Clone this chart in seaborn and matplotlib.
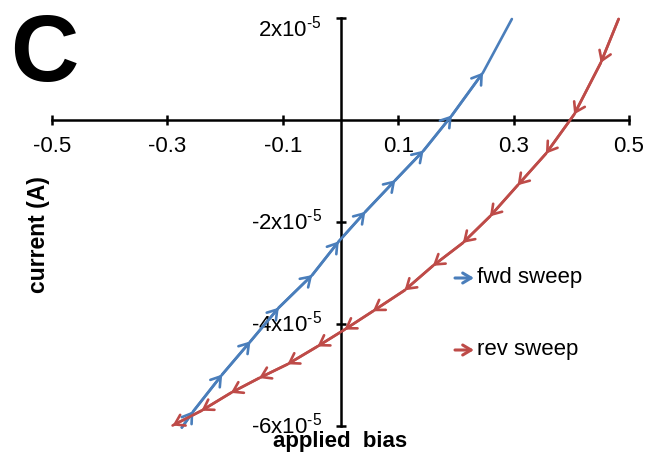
import numpy as np
import pandas as pd
import matplotlib
matplotlib.use("Agg")
import matplotlib.pyplot as plt
import matplotlib.transforms as mtransforms
import seaborn as sns

# ---- data ----
fwd_bias = [-0.275, -0.255, -0.205, -0.156, -0.107, -0.049, -0.003, 0.043, 0.095,
            0.144, 0.193, 0.247, 0.297]
fwd_current = [-6.03e-5, -5.71e-5, -4.99e-5, -4.34e-5, -3.68e-5, -3.04e-5, -2.38e-5,
               -1.80e-5, -1.18e-5, -0.60e-5, 0.09e-5, 0.93e-5, 1.98e-5]
rev_bias = [0.482, 0.451, 0.405, 0.356, 0.307, 0.259, 0.212, 0.160, 0.111, 0.056,
            0.007, -0.040, -0.092, -0.141, -0.190, -0.241, -0.291]
rev_current = [1.98e-5, 1.12e-5, 0.11e-5, -0.66e-5, -1.28e-5, -1.89e-5, -2.41e-5,
               -2.86e-5, -3.34e-5, -3.75e-5, -4.11e-5, -4.44e-5, -4.79e-5, -5.06e-5,
               -5.35e-5, -5.70e-5, -5.99e-5]
series_names = ["fwd sweep", "rev sweep"]
x_ticks = [-0.5, -0.3, -0.1, 0.1, 0.3, 0.5]
x_tick_labels = ["-0.5", "-0.3", "-0.1", "0.1", "0.3", "0.5"]
y_ticks = [-6e-5, -4e-5, -2e-5, 2e-5]
y_tick_labels = ["-6x10$^{\u20105}$", "-4x10$^{\u20105}$", "-2x10$^{\u20105}$", "2x10$^{\u20105}$"]

BLUE = "#4A7EBB"
RED = "#BE4B48"

sns.set_theme(style="white")
plt.rcParams["font.family"] = ["Liberation Sans", "DejaVu Sans"]
plt.rcParams["mathtext.fontset"] = "custom"
plt.rcParams["mathtext.rm"] = "Liberation Sans"
plt.rcParams["mathtext.it"] = "Liberation Sans:italic"
plt.rcParams["mathtext.bf"] = "Liberation Sans:bold"
plt.rcParams["mathtext.default"] = "regular"

fig = plt.figure(figsize=(6.48, 4.53), dpi=100)
W, H = 648, 453
ax = fig.add_axes([52 / W, 1 - 426 / H, (629 - 52) / W, (426 - 18) / H])

df_fwd = pd.DataFrame({"bias": fwd_bias, "current": fwd_current})
df_rev = pd.DataFrame({"bias": rev_bias, "current": rev_current})

sns.lineplot(data=df_fwd, x="bias", y="current", sort=False, estimator=None,
             color=BLUE, lw=1.9, ax=ax)
sns.lineplot(data=df_rev, x="bias", y="current", sort=False, estimator=None,
             color=RED, lw=1.9, ax=ax)
for ln in ax.lines:
    ln.set_clip_on(False)


def add_arrows(xs, ys, color, idx):
    for i in idx:
        ax.annotate("", xy=(xs[i], ys[i]), xytext=(xs[i - 1], ys[i - 1]),
                    arrowprops=dict(arrowstyle="->,head_length=0.55,head_width=0.36",
                                    color=color, lw=1.9, shrinkA=0, shrinkB=0,
                                    mutation_scale=12),
                    annotation_clip=False)


add_arrows(fwd_bias, fwd_current, BLUE, range(1, len(fwd_bias) - 1))
add_arrows(rev_bias, rev_current, RED, range(1, len(rev_bias)))

ax.set_xlim(-0.5, 0.5)
ax.set_ylim(-6e-5, 2e-5)

for s in ["top", "right"]:
    ax.spines[s].set_visible(False)
ax.spines["left"].set_position(("data", 0))
ax.spines["bottom"].set_position(("data", 0))
for s in ["left", "bottom"]:
    ax.spines[s].set_color("black")
    ax.spines[s].set_linewidth(1.8)

ax.set_xticks(x_ticks)
ax.set_xticklabels(x_tick_labels)
ax.set_yticks(y_ticks)
ax.set_yticklabels(y_tick_labels)
ax.tick_params(axis="both", direction="inout", length=7, width=1.8,
               color="black", labelsize=16, labelcolor="black")
ax.tick_params(axis="x", pad=8)
ax.tick_params(axis="y", pad=10)
ax.tick_params(axis="both", which="both", bottom=True, left=True)

# nudge y tick labels: bottom ones up slightly, top one down (as in the reference)
ylabels = ax.get_yticklabels()
shifts = [3, 3, 3, -8]
for lab, dy in zip(ylabels, shifts):
    off = mtransforms.ScaledTranslation(0, dy / 100, fig.dpi_scale_trans)
    lab.set_transform(lab.get_transform() + off)

ax.set_xlabel("applied  bias", fontsize=16, fontweight="bold", color="black")
ax.xaxis.set_label_coords(0.5, (426 - 442) / 408)
ax.xaxis.label.set_verticalalignment("center")
ax.set_ylabel("current (A)", fontsize=16.5, fontweight="bold", color="black")
ax.yaxis.set_label_coords((39 - 52) / 577, (426 - 235) / 408)
ax.yaxis.label.set_verticalalignment("center")

# legend drawn as arrows + text
leg_y = [(426 - 278) / 408, (426 - 350) / 408]
for name, color, yy in zip(series_names, [BLUE, RED], leg_y):
    ax.annotate("", xy=((474 - 52) / 577, yy), xytext=((455 - 52) / 577, yy),
                xycoords="axes fraction", textcoords="axes fraction",
                arrowprops=dict(arrowstyle="->,head_length=0.5,head_width=0.3",
                                color=color, lw=2.2, shrinkA=0, shrinkB=0,
                                mutation_scale=12))
    ax.text((477 - 52) / 577, yy, name, transform=ax.transAxes, fontsize=16,
            ha="left", va="center", color="black")

fig.text(10 / W, 1 - 81 / H, "C", fontsize=68, fontweight="bold", ha="left",
         va="baseline", color="black")

fig.savefig("out.png", dpi=100)
